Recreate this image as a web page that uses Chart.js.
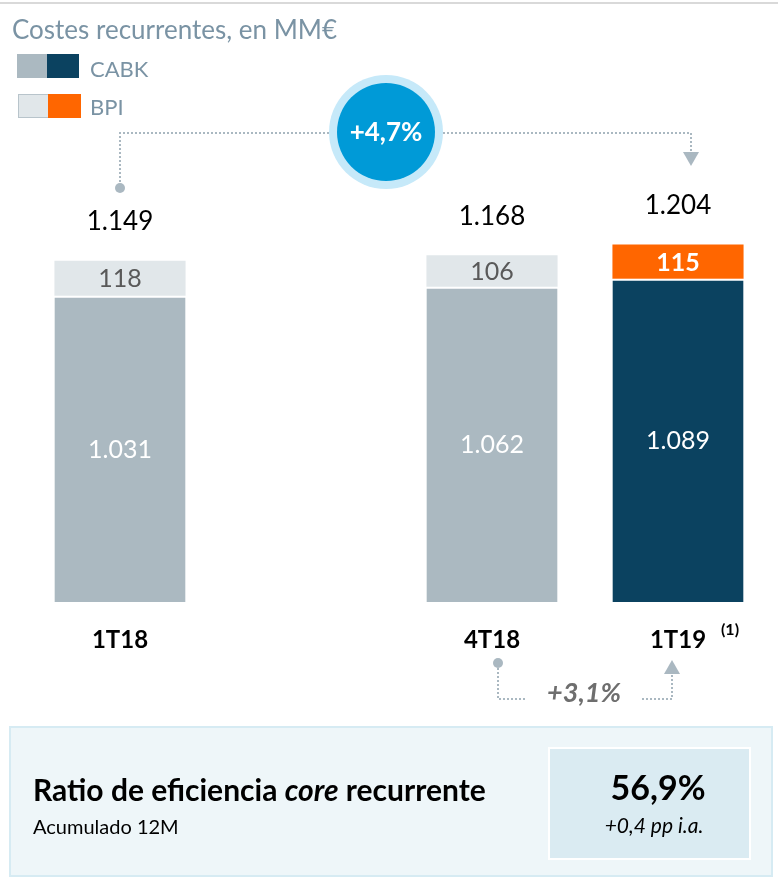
<!DOCTYPE html>
<html>
<head>
<meta charset="utf-8">
<script src="https://cdn.jsdelivr.net/npm/chart.js@4.4.1/dist/chart.umd.min.js"></script>
<style>
  html, body { margin: 0; padding: 0; background: #ffffff; }
  #wrap { width: 778px; height: 890px; position: relative; }
</style>
</head>
<body>
<div id="wrap"><canvas id="c" width="778" height="890"></canvas></div>
<script>
const categories = ['1T18', '', '4T18', '1T19'];
const cabkValues = [1031, null, 1062, 1089];
const bpiValues = [118, null, 106, 115];
const totalValues = [1149, null, 1168, 1204];
const cabkColors = ['#ABB9C1', '#ABB9C1', '#ABB9C1', '#0B4260'];
const bpiColors = ['#E1E7EA', '#E1E7EA', '#E1E7EA', '#FF6600'];
const growthTotal = '+4,7%';
const growthQuarter = '+3,1%';
const ratioValue = '56,9%';
const ratioChange = '+0,4 pp i.a.';

const FONT = 'Lato, "Open Sans", sans-serif';

function fmt(n) {
  if (n >= 1000) {
    const th = Math.floor(n / 1000);
    const r = String(n % 1000).padStart(3, '0');
    return th + '.' + r;
  }
  return String(n);
}

function dotted(ctx, pts) {
  ctx.save();
  ctx.strokeStyle = '#AAB8C1';
  ctx.lineWidth = 2;
  ctx.setLineDash([2, 2]);
  ctx.beginPath();
  ctx.moveTo(pts[0][0], pts[0][1]);
  for (let i = 1; i < pts.length; i++) ctx.lineTo(pts[i][0], pts[i][1]);
  ctx.stroke();
  ctx.restore();
}
function dot(ctx, x, y, r) {
  ctx.save();
  ctx.fillStyle = '#AAB8C1';
  ctx.beginPath();
  ctx.arc(x, y, r, 0, Math.PI * 2);
  ctx.fill();
  ctx.restore();
}
function tri(ctx, x, yTip, dir) {
  ctx.save();
  ctx.fillStyle = '#AAB8C1';
  ctx.beginPath();
  ctx.moveTo(x, yTip);
  ctx.lineTo(x - 8, yTip - dir * 14);
  ctx.lineTo(x + 8, yTip - dir * 14);
  ctx.closePath();
  ctx.fill();
  ctx.restore();
}

const decor = {
  id: 'decor',
  beforeDraw(chart) {
    const ctx = chart.ctx;
    ctx.save();
    ctx.fillStyle = '#ffffff';
    ctx.fillRect(0, 0, chart.width, chart.height);
    ctx.fillStyle = '#D9D9D9';
    ctx.fillRect(0, 2, 778, 2);
    ctx.restore();
  },
  afterDatasetsDraw(chart) {
    const ctx = chart.ctx;
    const mC = chart.getDatasetMeta(0).data;
    const mB = chart.getDatasetMeta(1).data;
    ctx.save();

    // Title
    ctx.textBaseline = 'middle';
    ctx.textAlign = 'left';
    ctx.fillStyle = '#7A93A4';
    ctx.font = '26px ' + FONT;
    ctx.fillText('Costes recurrentes, en MM€', 12, 31);

    // Legend
    ctx.fillStyle = cabkColors[0];
    ctx.fillRect(17, 54, 30, 24);
    ctx.fillStyle = cabkColors[3];
    ctx.fillRect(47, 54, 32, 24);
    ctx.fillStyle = bpiColors[0];
    ctx.fillRect(18, 95, 30, 22);
    ctx.strokeStyle = '#B8C4CB';
    ctx.lineWidth = 1;
    ctx.strokeRect(18.5, 94.5, 30, 23);
    ctx.fillStyle = bpiColors[3];
    ctx.fillRect(48, 94, 33, 24);
    ctx.fillStyle = '#7A93A4';
    ctx.font = '22px ' + FONT;
    ctx.fillText(chart.data.datasets[0].label, 90, 70);
    ctx.fillText(chart.data.datasets[1].label, 90, 108);

    // Segment labels & totals
    ctx.textAlign = 'center';
    for (let i = 0; i < categories.length; i++) {
      if (cabkValues[i] == null) continue;
      const c = mC[i], b = mB[i];
      const last = i === categories.length - 1;
      ctx.font = '25px ' + FONT;
      ctx.fillStyle = '#ffffff';
      ctx.fillText(fmt(cabkValues[i]), c.x, (c.y + c.base) / 2 + 1);
      ctx.font = (last ? 'bold ' : '') + '25px ' + FONT;
      ctx.fillStyle = last ? '#ffffff' : '#595959';
      ctx.fillText(fmt(bpiValues[i]), b.x, (b.y + b.base) / 2 + 1);
      ctx.font = '26px ' + FONT;
      ctx.fillStyle = '#000000';
      ctx.fillText(fmt(totalValues[i]), b.x, b.y - 39);
      ctx.font = 'bold 24px ' + FONT;
      ctx.fillText(categories[i], c.x, 640);
    }
    const lastBar = mC[categories.length - 1];
    ctx.font = 'bold 16px ' + FONT;
    ctx.fillStyle = '#000000';
    ctx.fillText('(1)', lastBar.x + 52, 630);

    // Top connector
    const x0 = mB[0].x, x3 = mB[3].x + 13;
    const lineY = 133;
    dotted(ctx, [[x0, 186], [x0, lineY], [x3, lineY], [x3, 151]]);
    dot(ctx, x0, 188, 5);
    tri(ctx, x3, 166, 1);

    // Circle
    const cx = 386, cy = 132;
    ctx.fillStyle = '#C6E9F9';
    ctx.beginPath(); ctx.arc(cx, cy, 57, 0, Math.PI * 2); ctx.fill();
    ctx.fillStyle = '#009AD7';
    ctx.beginPath(); ctx.arc(cx, cy, 49, 0, Math.PI * 2); ctx.fill();
    ctx.fillStyle = '#ffffff';
    ctx.font = 'bold 26px ' + FONT;
    ctx.textAlign = 'center';
    ctx.fillText(growthTotal, cx, cy + 1);

    // Bottom connector
    const bx0 = mC[2].x + 6, bx1 = mC[3].x - 6;
    dotted(ctx, [[bx0, 664], [bx0, 699], [525, 699]]);
    dotted(ctx, [[642, 699], [bx1, 699], [bx1, 674]]);
    dot(ctx, bx0, 663, 5);
    tri(ctx, bx1, 660, -1);
    ctx.fillStyle = '#6E6E6E';
    ctx.font = 'italic bold 27px ' + FONT;
    ctx.textAlign = 'center';
    ctx.fillText(growthQuarter, 584, 693);

    // Bottom panel
    ctx.fillStyle = '#EEF6F9';
    ctx.fillRect(10, 727, 762, 149);
    ctx.strokeStyle = '#D6EBF3';
    ctx.lineWidth = 2;
    ctx.strokeRect(10, 727, 762, 149);
    ctx.fillStyle = '#DAEBF2';
    ctx.fillRect(549, 748, 201, 111);
    ctx.strokeStyle = '#ffffff';
    ctx.lineWidth = 2;
    ctx.strokeRect(549, 748, 201, 111);

    ctx.textAlign = 'left';
    ctx.fillStyle = '#000000';
    let tx = 33;
    const parts = [['bold', 'Ratio de eficiencia '], ['italic bold', 'core'], ['bold', ' recurrente']];
    for (const [st, t] of parts) {
      ctx.font = st + ' 30px ' + FONT;
      ctx.fillText(t, tx, 791);
      tx += ctx.measureText(t).width;
    }
    ctx.font = '20px ' + FONT;
    ctx.fillText('Acumulado 12M', 33, 828);

    ctx.textAlign = 'center';
    ctx.font = 'bold 34px ' + FONT;
    ctx.fillText(ratioValue, 658, 789);
    ctx.font = 'italic 21px ' + FONT;
    ctx.fillText(ratioChange, 654, 826);

    ctx.restore();
  }
};

new Chart(document.getElementById('c'), {
  type: 'bar',
  data: {
    labels: categories,
    datasets: [
      {
        label: 'CABK',
        data: cabkValues,
        backgroundColor: cabkColors,
        borderColor: '#ffffff',
        borderWidth: { top: 2, left: 0, right: 0, bottom: 0 },
        borderSkipped: false
      },
      {
        label: 'BPI',
        data: bpiValues,
        backgroundColor: bpiColors,
        borderWidth: 0
      }
    ]
  },
  options: {
    responsive: false,
    animation: false,
    events: [],
    layout: { padding: { left: 27, right: 7, top: 216, bottom: 288 } },
    plugins: { legend: { display: false }, tooltip: { enabled: false }, title: { display: false } },
    datasets: { bar: { categoryPercentage: 1, barPercentage: 0.705 } },
    scales: {
      x: { stacked: true, display: false },
      y: { stacked: true, display: false, min: 0, max: 1300 }
    }
  },
  plugins: [decor]
});
</script>
</body>
</html>
